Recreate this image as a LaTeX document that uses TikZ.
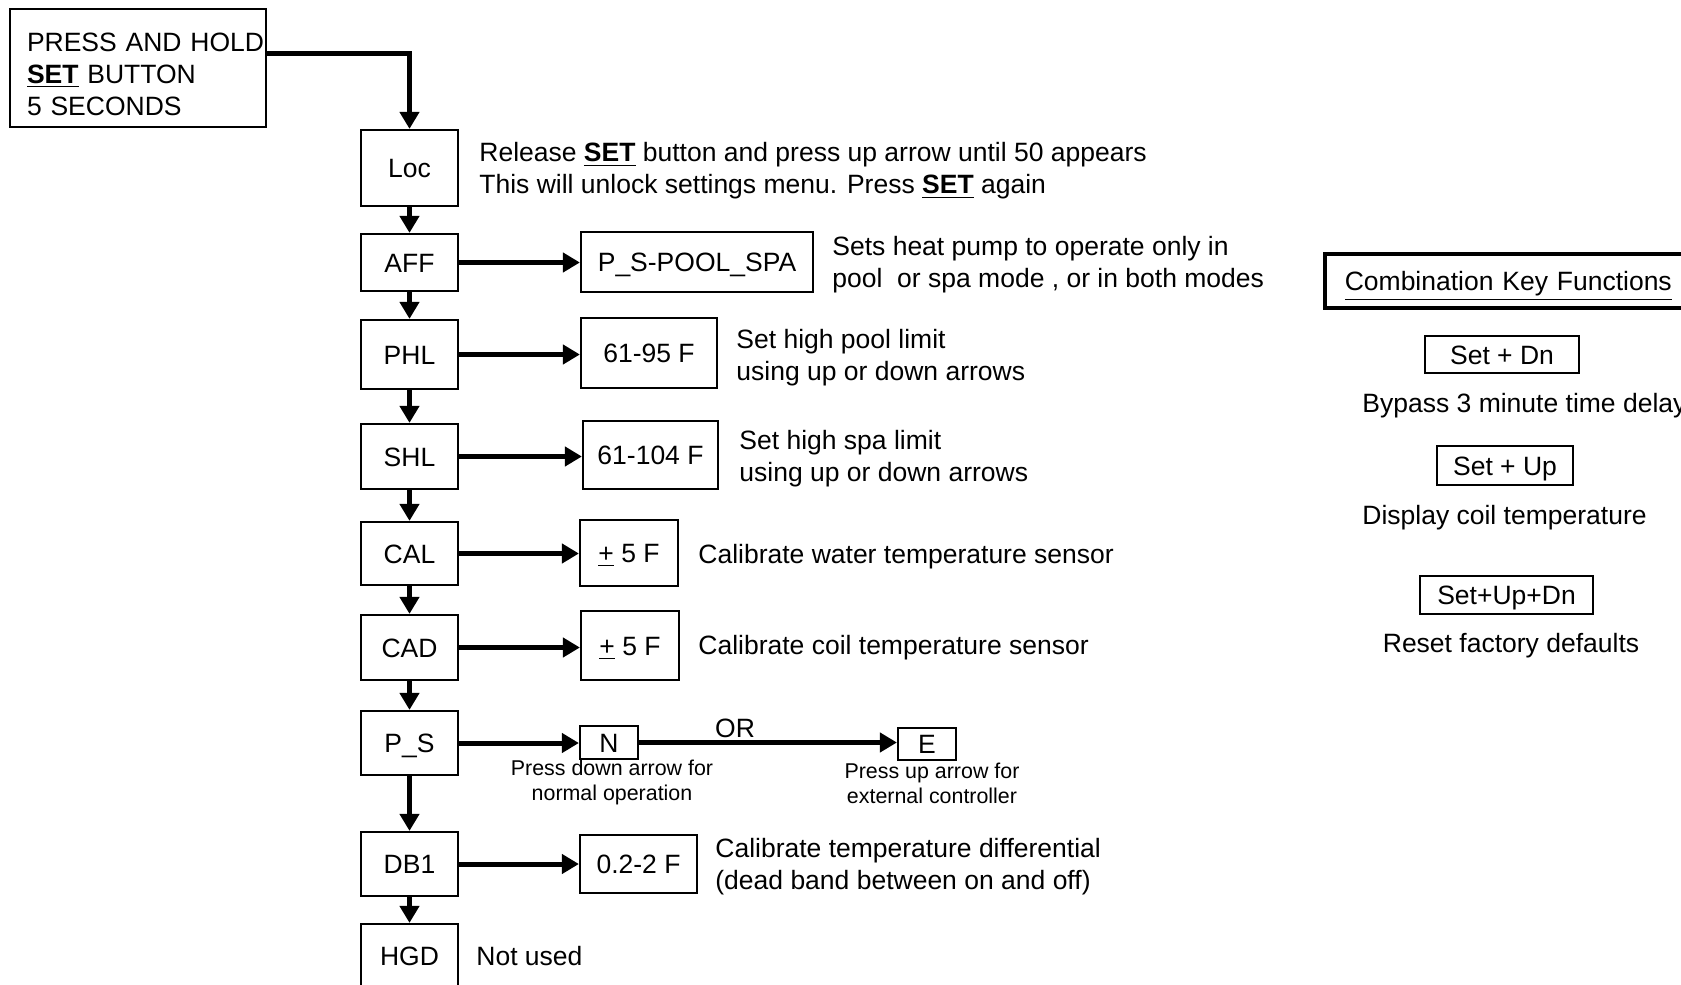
\documentclass[tikz,border=0pt]{standalone}
\usepackage{fontspec}
\setmainfont{Liberation Sans}
\usetikzlibrary{arrows.meta}
\begin{document}
\begin{tikzpicture}[x=0.5pt,y=-0.5pt,
  every node/.style={font=\fontsize{13.25pt}{16pt}\selectfont, inner sep=0pt},
  frame/.style={draw, line width=1.1pt},
  box/.style={frame, align=center, text height=9.6pt, text depth=0pt},
  mainbox/.style={box, minimum width=48.5pt},
  conn/.style={line width=2.5pt, -{Triangle[length=8.5pt,width=9.5pt]}},
  note/.style={anchor=west, align=left, yshift=-1.5pt},
  small/.style={font=\fontsize{10.7pt}{12.5pt}\selectfont, align=center, yshift=-1pt}
]
\useasboundingbox (0,0) rectangle (1681,985);
\clip (0,0) rectangle (1681,985);

% start box
\node[frame, minimum width=128pt, minimum height=59pt, text width=127pt, align=left] (start) at (138,68)
  {\mbox{\hspace{8pt}\rule{0pt}{15.5pt}PRESS AND HOLD}\\\mbox{\hspace{8pt}\underline{\textbf{SET}} BUTTON}\\\mbox{\hspace{8pt}5 SECONDS}};

% main column
\node[mainbox, minimum height=38pt]   (loc) at (409.5,168)   {Loc};
\node[mainbox, minimum height=28.5pt] (aff) at (409.5,262.5) {AFF};
\node[mainbox, minimum height=34.5pt] (phl) at (409.5,354.5) {PHL};
\node[mainbox, minimum height=32.5pt] (shl) at (409.5,456.5) {SHL};
\node[mainbox, minimum height=31.5pt] (cal) at (409.5,553.5) {CAL};
\node[mainbox, minimum height=32.5pt] (cad) at (409.5,647.5) {CAD};
\node[mainbox, minimum height=32pt]   (ps)  at (409.5,743)   {P\_S};
\node[mainbox, minimum height=32pt]   (db1) at (409.5,864)   {DB1};
\node[mainbox, minimum height=32pt]   (hgd) at (409.5,956)   {HGD};

% value boxes
\node[box, minimum width=116pt, minimum height=30pt]   (psv)  at (697,262)   {P\_S-POOL\_SPA};
\node[box, minimum width=68pt,  minimum height=35pt]   (phlv) at (649,353)   {61-95 F};
\node[box, minimum width=67.5pt,minimum height=34pt]   (shlv) at (650.5,455) {61-104 F};
\node[box, minimum width=49pt,  minimum height=33pt]   (calv) at (629,553)   {\underline{+} 5 F};
\node[box, minimum width=49pt,  minimum height=34.5pt] (cadv) at (630,645.5) {\underline{+} 5 F};
\node[box, minimum width=29pt,  minimum height=16.5pt] (nbox) at (609,742.5) {N};
\node[box, minimum width=29pt,  minimum height=16pt]   (ebox) at (927,744)   {E};
\node[box, minimum width=58.5pt,minimum height=29pt]   (db1v) at (638.5,864) {0.2-2 F};

% notes
\node[note] (tloc) at (479,168) {Release \underline{\textbf{SET}} button and press up arrow until 50 appears\\This will unlock settings menu. Press \underline{\textbf{SET}} again};
\node[note] (taff) at (832,262) {Sets heat pump to operate only in\\pool\ \ or spa mode , or in both modes};
\node[note] (tphl) at (736,355) {Set high pool limit\\using up or down arrows};
\node[note] (tshl) at (739,456) {Set high spa limit\\using up or down arrows};
\node[note] (tcal) at (698,554) {Calibrate water temperature sensor};
\node[note] (tcad) at (698,645) {Calibrate coil temperature sensor};
\node[note] (tdb1) at (715,864) {Calibrate temperature differential\\(dead band between on and off)};
\node[note, yshift=1.5pt] (thgd) at (476,956) {Not used};
\node[text height=9.6pt, text depth=0pt] (tor) at (735,728) {OR};
\node[small] (tn) at (612,780.5) {Press down arrow for\\normal operation};
\node[small] (te) at (932,781.5) {Press up arrow for\\external controller};

% connectors
\draw[conn] ([yshift=7.5pt]start.east) -| (loc.north);
\draw[conn] (loc.south) -- (aff.north);
\draw[conn] (aff.south) -- (phl.north);
\draw[conn] (phl.south) -- (shl.north);
\draw[conn] (shl.south) -- (cal.north);
\draw[conn] (cal.south) -- (cad.north);
\draw[conn] (cad.south) -- (ps.north);
\draw[conn] (ps.south) -- (db1.north);
\draw[conn] (db1.south) -- (hgd.north);

\draw[conn] (aff.east) -- (aff.east -| psv.west);
\draw[conn] (phl.east) -- (phl.east -| phlv.west);
\draw[conn] (shl.east) -- (shl.east -| shlv.west);
\draw[conn] (cal.east) -- (cal.east -| calv.west);
\draw[conn] (cad.east) -- (cad.east -| cadv.west);
\draw[conn] (ps.east) -- (ps.east -| nbox.west);
\draw[conn] (nbox.east) -- (nbox.east -| ebox.west);
\draw[conn] (db1.east) -- (db1.east -| db1v.west);

% right panel
\node[draw, line width=1.8pt, anchor=west, inner xsep=10pt, text width=170pt, align=left,
      text height=9.6pt, text depth=0pt, minimum height=27pt] (combo) at (1323,281)
  {\underline{Combination Key Functions}};
\node[box, minimum width=77pt,   minimum height=18.5pt] (sdn)   at (1502,354.5) {Set + Dn};
\node[note] (tsdn) at (1362,403) {Bypass 3 minute time delay};
\node[box, minimum width=68pt,   minimum height=19.5pt] (sup)   at (1505,465.5) {Set + Up};
\node[note] (tsup) at (1362,515) {Display coil temperature};
\node[box, minimum width=86.5pt, minimum height=19pt]   (sud)   at (1506.5,595) {Set+Up+Dn};
\node[yshift=-1.5pt] (tsud) at (1511,643) {Reset factory defaults};
\end{tikzpicture}
\end{document}
